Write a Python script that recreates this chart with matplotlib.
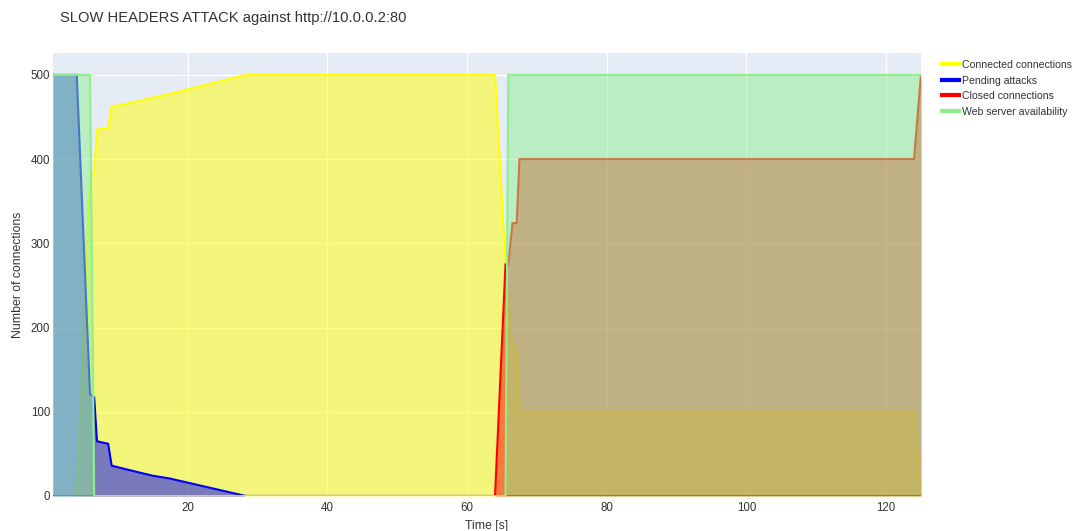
import matplotlib.pyplot as plt
from matplotlib.lines import Line2D

plt.rcParams['font.family'] = ['Liberation Sans', 'DejaVu Sans']

# sample times [s]
time_s = [0.7, 4.1, 6.0, 6.6, 7.0, 8.6, 9.1, 13.0, 15.0, 17.3, 22.0, 28.3,
          64.0, 65.5, 65.9, 66.5, 67.1, 67.5, 124.0, 125.0]

connected = [0, 0, 380, 385, 435, 437, 462, 469, 473, 477, 487, 500,
             500, 275, 225, 176, 176, 100, 100, 0]
pending = [500, 500, 121, 117, 65, 62, 36, 28, 24, 21, 12, 0,
           0, 0, 0, 0, 0, 0, 0, 0]
closed = [0, 0, 0, 0, 0, 0, 0, 0, 0, 0, 0, 0,
          0, 275, 275, 324, 324, 400, 400, 500]
availability = [500, 500, 500, 0, 0, 0, 0, 0, 0, 0, 0, 0,
                0, 0, 500, 500, 500, 500, 500, 500]

series = [
    ("Connected connections", connected, "yellow"),
    ("Pending attacks", pending, "blue"),
    ("Closed connections", closed, "red"),
    ("Web server availability", availability, "lightgreen"),
]

txt = "#333333"

fig = plt.figure(figsize=(10.74, 5.31), dpi=100)
ax = fig.add_axes([53 / 1074, 35 / 531, 868 / 1074, 443 / 531])
ax.set_facecolor("#E5ECF6")

handles = []
for i, (name, vals, col) in enumerate(series):
    ax.fill_between(time_s, vals, 0, color=col, alpha=0.5, lw=0, zorder=3 + 2 * i)
    ax.plot(time_s, vals, color=col, lw=1.5, zorder=4 + 2 * i, solid_joinstyle="miter")
    handles.append(Line2D([], [], color=col, lw=3))

ax.set_xlim(time_s[0], time_s[-1])
ax.set_ylim(0, 526)
ax.set_xticks([20, 40, 60, 80, 100, 120])
ax.set_yticks([0, 100, 200, 300, 400, 500])
ax.grid(True, color="white", lw=1, zorder=1)
ax.set_axisbelow(True)
for s in ax.spines.values():
    s.set_visible(False)
ax.tick_params(length=0, labelsize=8.3, colors=txt, pad=2)
ax.tick_params(axis="x", pad=4)

ax.set_xlabel("Time [s]", fontsize=8.8, color=txt, labelpad=5)
ax.set_ylabel("Number of connections", fontsize=8.8, color=txt, labelpad=5)

fig.text(60 / 1074, 1 - 18 / 531, "SLOW HEADERS ATTACK against http://10.0.0.2:80",
         fontsize=10.6, color=txt, va="center", ha="left")

fig.legend(handles, [s[0] for s in series], loc="upper left",
           bbox_to_anchor=(942 / 1074, 1 - 60 / 531), frameon=False,
           fontsize=7.6, handlelength=1.65, handletextpad=0.2, labelspacing=0.53,
           borderaxespad=0, borderpad=0, labelcolor=txt)

fig.savefig("out.png", dpi=100)
